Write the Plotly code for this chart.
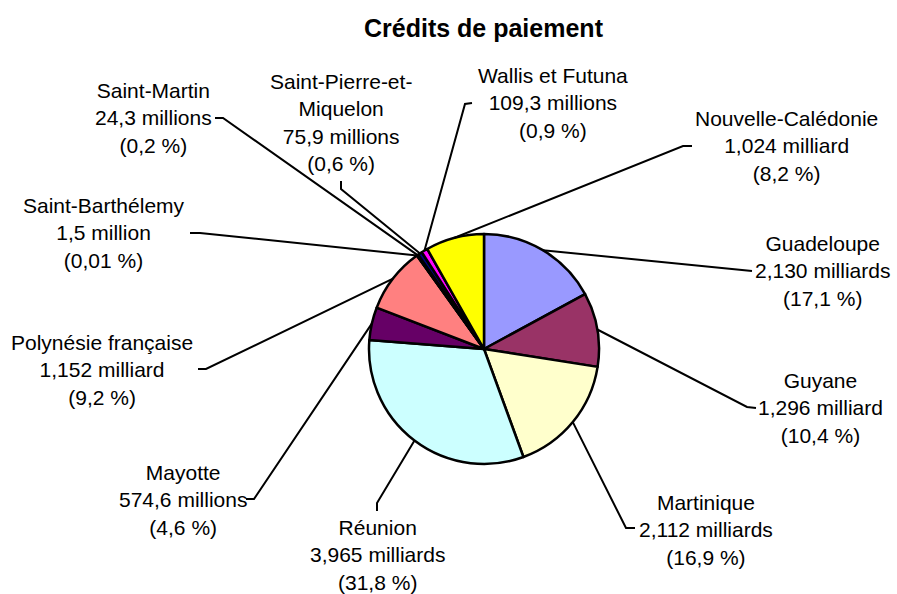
import math
import plotly.graph_objects as go

# ---- data ----
territoires = ["Guadeloupe", "Guyane", "Martinique", "Réunion", "Mayotte",
               "Polynésie française", "Saint-Barthélemy", "Saint-Martin",
               "Saint-Pierre-et-Miquelon", "Wallis et Futuna", "Nouvelle-Calédonie"]
credits_md = [2.130, 1.296, 2.112, 3.965, 0.5746, 1.152, 0.0015, 0.0243, 0.0759, 0.1093, 1.024]
montants = ["2,130 milliards", "1,296 milliard", "2,112 milliards", "3,965 milliards",
            "574,6 millions", "1,152 milliard", "1,5 million", "24,3 millions",
            "75,9 millions", "109,3 millions", "1,024 milliard"]
parts = ["(17,1 %)", "(10,4 %)", "(16,9 %)", "(31,8 %)", "(4,6 %)", "(9,2 %)",
         "(0,01 %)", "(0,2 %)", "(0,6 %)", "(0,9 %)", "(8,2 %)"]
noms_affiches = ["Guadeloupe", "Guyane", "Martinique", "Réunion", "Mayotte",
                 "Polynésie française", "Saint-Barthélemy", "Saint-Martin",
                 "Saint-Pierre-et-<br>Miquelon", "Wallis et Futuna", "Nouvelle-Calédonie"]
couleurs = ["#9999FF", "#993366", "#FFFFCC", "#CCFFFF", "#660066", "#FF8080",
            "#0066CC", "#CCCCFF", "#000080", "#FF00FF", "#FFFF00"]

# ---- layout geometry (pixels) ----
W, H = 897, 594
CX, CY, R = 484, 349, 115
# label block centre, leader elbow, leader end
label_pos = [(822, 271), (820, 408), (706, 530), (377, 555), (183, 500),
             (102, 370), (104, 233), (153, 118), (341, 122), (553, 103), (786, 146)]
elbows = [(742, 270), (747, 407), (626, 528), (377, 503), (254, 499),
          (206, 369), (200, 233), (223, 118), (341, 189), (465, 104), (683, 146)]
ends = [(752, 271), (756, 408), (635, 528), (377, 511), (246, 499),
        (198, 369), (190, 233), (215, 118), (341, 181), (472, 103), (692, 146)]

fig = go.Figure()
fig.add_trace(go.Pie(
    labels=territoires, values=credits_md, sort=False, direction="clockwise",
    rotation=0, textinfo="none", hoverinfo="label+value",
    marker=dict(colors=couleurs, line=dict(color="black", width=2.5)),
    domain=dict(x=[(CX - R) / W, (CX + R) / W], y=[(H - CY - R) / H, (H - CY + R) / H]),
    showlegend=False,
))

total = sum(credits_md)
cum = 0.0
shapes = []
annotations = []
for i, v in enumerate(credits_md):
    mid = (cum + v / 2) / total * 2 * math.pi
    cum += v
    px = CX + R * math.sin(mid)
    py = CY - R * math.cos(mid)
    ex, ey = elbows[i]
    tx, ty = ends[i]
    shapes.append(dict(type="path", xref="x", yref="y",
                       path=f"M {px:.1f},{py:.1f} L {ex},{ey} L {tx},{ty}",
                       line=dict(color="black", width=2)))
    lx, ly = label_pos[i]
    annotations.append(dict(x=lx, y=ly, xref="x", yref="y",
                            text=f"{noms_affiches[i]}<br>{montants[i]}<br>{parts[i]}",
                            showarrow=False, xanchor="center", yanchor="middle",
                            font=dict(family="Liberation Sans, Arial", size=21, color="black")))

annotations.append(dict(x=484, y=28, xref="x", yref="y", text="<b>Crédits de paiement</b>",
                        showarrow=False, xanchor="center", yanchor="middle",
                        font=dict(family="Liberation Sans, Arial", size=25, color="black")))

fig.update_layout(
    width=W, height=H, margin=dict(l=0, r=0, t=0, b=0),
    paper_bgcolor="white", plot_bgcolor="rgba(0,0,0,0)",
    xaxis=dict(range=[0, W], visible=False, fixedrange=True),
    yaxis=dict(range=[H, 0], visible=False, fixedrange=True),
    shapes=shapes, annotations=annotations,
)
fig.write_html("out.html")
